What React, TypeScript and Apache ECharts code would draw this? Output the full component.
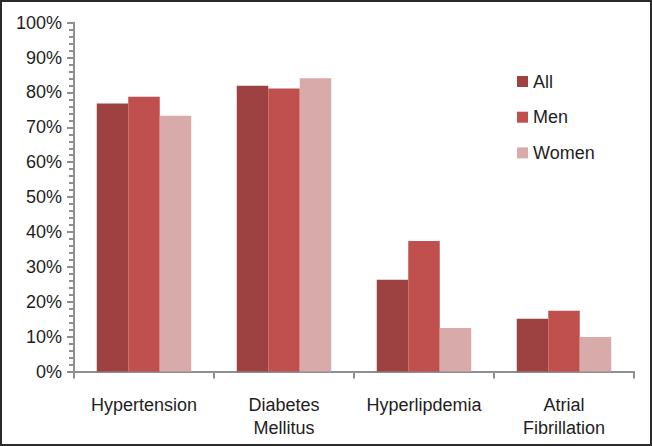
import React, { useEffect, useRef } from "react";
import * as echarts from "echarts";

const categories = ["Hypertension", "Diabetes\nMellitus", "Hyperlipdemia", "Atrial\nFibrillation"];
const seriesNames = ["All", "Men", "Women"];
const allValues = [76.8, 81.9, 26.3, 15.1];
const menValues = [78.8, 81.1, 37.4, 17.4];
const womenValues = [73.3, 84.1, 12.5, 9.9];
const colors = ["#9D4240", "#C0504D", "#D9AAAA"];

const FONT = "'Liberation Sans', Arial, Helvetica, sans-serif";
const AXIS_COLOR = "#8f8f8f";
const TEXT_COLOR = "#1e1e1e";

export default function App() {
  const ref = useRef<HTMLDivElement>(null);
  useEffect(() => {
    if (!ref.current) return;
    const chart = echarts.init(ref.current, undefined, { renderer: "svg" });
    const values = [allValues, menValues, womenValues];
    chart.setOption({
      animation: false,
      backgroundColor: "#ffffff",
      textStyle: { fontFamily: FONT },
      grid: { left: 74, right: 18, top: 22.7, bottom: 74.5, containLabel: false },
      legend: {
        orient: "vertical",
        left: 517,
        top: 72.5,
        padding: 0,
        itemWidth: 11,
        itemHeight: 11,
        itemGap: 17.7,
        icon: "rect",
        data: seriesNames,
        textStyle: { fontFamily: FONT, fontSize: 18, color: TEXT_COLOR, lineHeight: 18 },
      },
      xAxis: {
        type: "category",
        data: categories,
        axisLine: { lineStyle: { color: AXIS_COLOR, width: 2 } },
        axisTick: { show: true, length: 7, lineStyle: { color: AXIS_COLOR, width: 2 } },
        axisLabel: {
          fontFamily: FONT,
          fontSize: 18,
          color: TEXT_COLOR,
          lineHeight: 23,
          margin: 22,
          interval: 0,
        },
      },
      yAxis: {
        type: "value",
        min: 0,
        max: 100,
        interval: 10,
        splitLine: { show: false },
        axisLine: { show: true, lineStyle: { color: AXIS_COLOR, width: 2 } },
        axisTick: { show: true, length: 7, lineStyle: { color: AXIS_COLOR, width: 2 } },
        minorTick: { show: true, splitNumber: 5, length: 5, lineStyle: { color: AXIS_COLOR, width: 2 } },
        axisLabel: {
          fontFamily: FONT,
          fontSize: 18,
          color: TEXT_COLOR,
          margin: 12,
          formatter: (v: number) => `${v}%`,
        },
      },
      series: seriesNames.map((name, i) => ({
        name,
        type: "bar",
        data: values[i],
        itemStyle: { color: colors[i] },
        barGap: "0%",
        barCategoryGap: "32.5%",
      })),
      graphic: [
        {
          type: "rect",
          shape: { x: 1, y: 1, width: 650, height: 444 },
          style: { fill: "none", stroke: "#2a2a2a", lineWidth: 2 },
          silent: true,
          z: 100,
        },
      ],
    });
    return () => chart.dispose();
  }, []);
  return (
    <div
      ref={ref}
      style={{ position: "absolute", left: 0, top: 0, width: 652, height: 446 }}
    />
  );
}
